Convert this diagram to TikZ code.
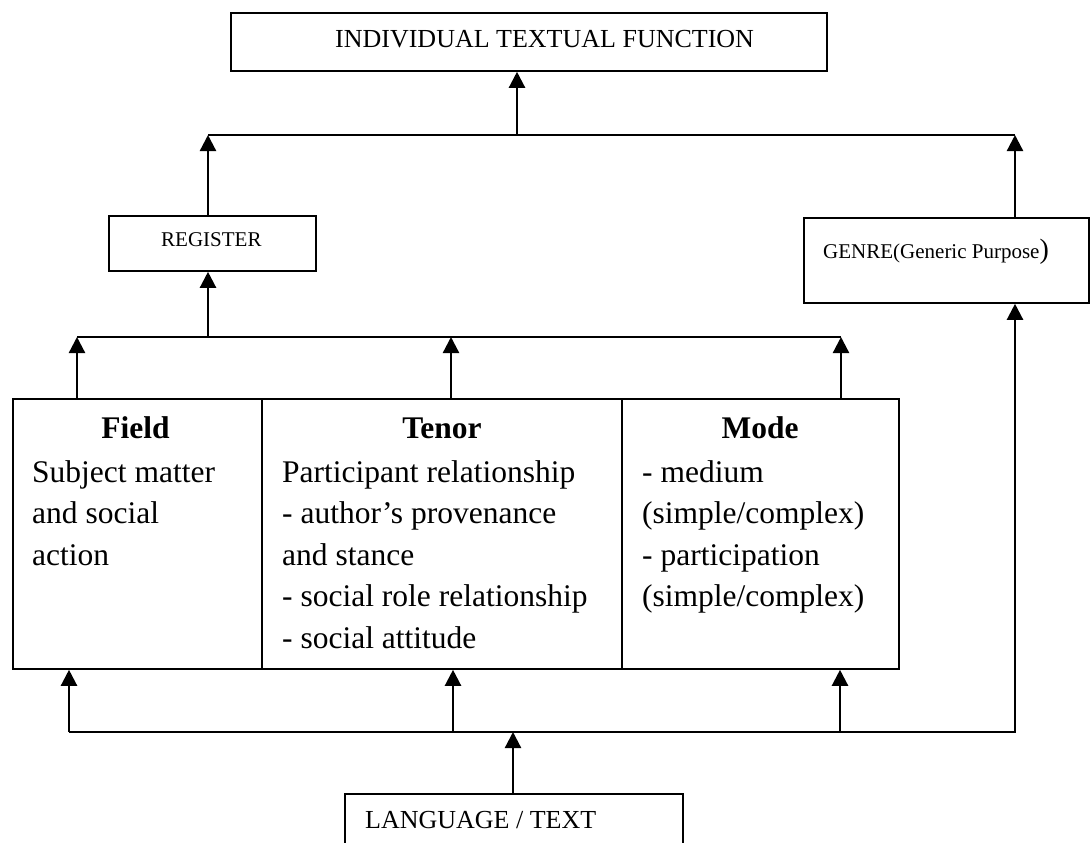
\documentclass[tikz,border=0pt]{standalone}
\usepackage{fontspec}
\setmainfont{Liberation Serif}
\usetikzlibrary{arrows.meta}
\begin{document}
\begin{tikzpicture}[x=1pt,y=-1pt,
  box/.style={draw, line width=1.8pt, inner sep=0pt, anchor=north west},
  conn/.style={line width=2.3pt},
  arr/.style={conn, -{Triangle[width=16pt,length=16pt]}},
  body/.style={font=\fontsize{31.5}{41.5}\selectfont, inner sep=0pt, anchor=base west},
  head/.style={font=\fontsize{31.5}{41.5}\selectfont\bfseries, inner sep=0pt, anchor=base},
  small/.style={font=\fontsize{21}{24}\selectfont, inner sep=0pt, anchor=base west},
  mid/.style={font=\fontsize{26}{30}\selectfont, inner sep=0pt, anchor=base west},
]
\useasboundingbox (0,0) rectangle (1090,843);
\fill[white] (0,0) rectangle (1090,843);
\clip (0,0) rectangle (1090,843);

% boxes
\node[box, minimum width=596pt, minimum height=58pt] (itf) at (230,12) {};
\node[box, minimum width=207pt, minimum height=55pt] (reg) at (108,215) {};
\node[box, minimum width=285pt, minimum height=85pt] (gen) at (803,217) {};
\node[box, minimum width=249pt, minimum height=270pt] (field) at (12,398) {};
\node[box, minimum width=360pt, minimum height=270pt] (tenor) at (261,398) {};
\node[box, minimum width=277pt, minimum height=270pt] (mode) at (621,398) {};
\node[box, minimum width=338pt, minimum height=100pt] (lang) at (344,793) {};

% texts
\node[mid] (itft) at (335,48) {INDIVIDUAL TEXTUAL FUNCTION};
\node[small] (regt) at (161,246) {REGISTER};
\node[small] (gent) at (823,258) {GENRE(Generic Purpose{\fontsize{28}{28}\selectfont)}};
\node[mid] (langt) at (365,828) {LANGUAGE / TEXT};

\node[head] (fieldh) at (135.5,438) {Field};
\node[head] (tenorh) at (442,438) {Tenor};
\node[head] (modeh) at (760,438) {Mode};

\node[body] (f1) at (32,482) {Subject matter};
\node[body] (f2) at (32,523.5) {and social};
\node[body] (f3) at (32,565) {action};

\node[body] (t1) at (282,482) {Participant relationship};
\node[body] (t2) at (282,523.5) {- author’s provenance};
\node[body] (t3) at (282,565) {and stance};
\node[body] (t4) at (282,606.5) {- social role relationship};
\node[body] (t5) at (282,648) {- social attitude};

\node[body] (m1) at (642,482) {- medium};
\node[body] (m2) at (642,523.5) {(simple/complex)};
\node[body] (m3) at (642,565) {- participation};
\node[body] (m4) at (642,606.5) {(simple/complex)};

% junction coordinates
\coordinate (l1L) at (208,135);
\coordinate (l1M) at (517,135);
\coordinate (l1R) at (1015,135);
\coordinate (l2L) at (77,337);
\coordinate (l2reg) at (208,337);
\coordinate (l2T) at (451,337);
\coordinate (l2R) at (841,337);
\coordinate (l3L) at (69,732);
\coordinate (l3T) at (453,732);
\coordinate (l3M) at (513,732);
\coordinate (l3Mo) at (840,732);
\coordinate (l3R) at (1015,732);

% connectors top level
\draw[conn] (l1L) -- (l1R);
\draw[arr] (l1M) -- (l1M |- itf.south);
\draw[arr] (reg.north -| l1L) -- (l1L);
\draw[arr] (gen.north -| l1R) -- (l1R);

% connectors middle level
\draw[conn] (l2L) -- (l2R);
\draw[arr] (l2reg) -- (reg.south -| l2reg);
\draw[arr] (field.north -| l2L) -- (l2L);
\draw[arr] (tenor.north -| l2T) -- (l2T);
\draw[arr] (mode.north -| l2R) -- (l2R);

% connectors bottom level
\draw[arr] (l3L) -- (l3R) -- (gen.south -| l3R);
\draw[arr] (l3L) -- (field.south -| l3L);
\draw[arr] (l3T) -- (tenor.south -| l3T);
\draw[arr] (l3Mo) -- (mode.south -| l3Mo);
\draw[arr] (lang.north -| l3M) -- (l3M);
\end{tikzpicture}
\end{document}
